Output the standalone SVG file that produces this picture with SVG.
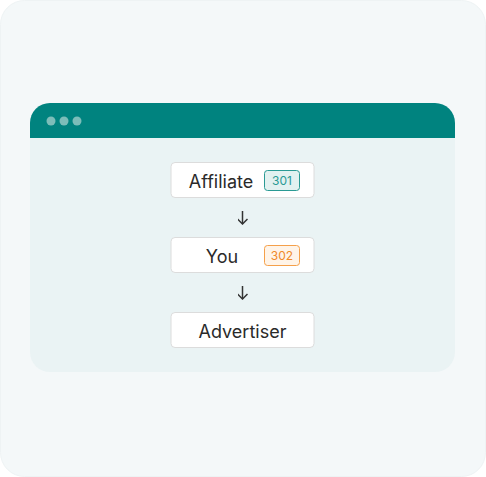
<svg xmlns="http://www.w3.org/2000/svg" width="486" height="477" viewBox="0 0 486 477">
<defs>
<marker id="ah" viewBox="0 0 10 10" refX="9" refY="5" markerWidth="10" markerHeight="10" markerUnits="userSpaceOnUse" orient="auto">
<path d="M4 0 L9 5 L4 10" fill="none" stroke="#333" stroke-width="1.5"/>
</marker>
</defs>
<style>
.box{fill:#ffffff;stroke:#dcdcdc;stroke-width:1}
.lbl{font-family:"Inter","Liberation Sans",sans-serif;font-size:18px;fill:#2a2a2a;text-anchor:middle}
.bt{font-family:"Inter","Liberation Sans",sans-serif;font-size:12px;text-anchor:middle}
.dot{fill:#7cbdb9}
.con{stroke:#333;stroke-width:1.5;fill:none}
</style>
<rect x="0" y="0" width="486" height="477" fill="#ffffff"/>
<rect x="0.5" y="0.5" width="485" height="476" rx="24" fill="#f4f8f9" stroke="#eef3f4"/>
<g id="window">
<rect x="30" y="103" width="425" height="269" rx="20" fill="#eaf3f4"/>
<path d="M30 138 V123 A20 20 0 0 1 50 103 H435 A20 20 0 0 1 455 123 V138 Z" fill="#00837f"/>
<circle class="dot" cx="51" cy="121" r="4.5"/>
<circle class="dot" cx="64" cy="121" r="4.5"/>
<circle class="dot" cx="77" cy="121" r="4.5"/>
</g>
<g id="affiliate">
<rect class="box" x="171" y="162.5" width="143" height="35" rx="4"/>
<text class="lbl" x="221" y="188">Affiliate</text>
<rect x="264.5" y="170.5" width="35" height="20" rx="3" fill="#e2f1f0" stroke="#2a9a94"/>
<text class="bt" x="282" y="185" fill="#2a9a94">301</text>
</g>
<g id="you">
<rect class="box" x="171" y="237.5" width="143" height="35" rx="4"/>
<text class="lbl" x="222" y="263">You</text>
<rect x="264.5" y="245.5" width="35" height="20" rx="3" fill="#fff4e8" stroke="#f5a04a"/>
<text class="bt" x="282" y="260" fill="#f08a2a">302</text>
</g>
<g id="advertiser">
<rect class="box" x="171" y="312.5" width="143" height="35" rx="4"/>
<text class="lbl" x="242.5" y="338">Advertiser</text>
</g>
<g id="connectors">
<path class="con" d="M242.5 211 V224" marker-end="url(#ah)"/>
<path class="con" d="M242.5 286 V299" marker-end="url(#ah)"/>
</g>
</svg>
